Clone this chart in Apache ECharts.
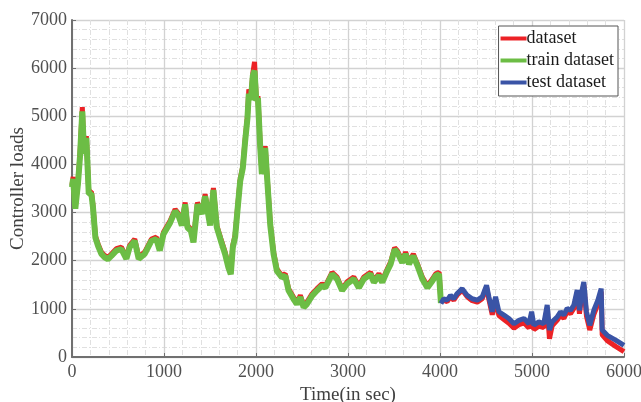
<!DOCTYPE html>
<html>
<head>
<meta charset="utf-8">
<script src="https://cdn.jsdelivr.net/npm/echarts@6/dist/echarts.min.js"></script>
<style>
  html, body { margin: 0; padding: 0; background: #fff; }
  #chart { width: 641px; height: 402px; }
</style>
</head>
<body>
<div id="chart"></div>
<script>
// time stamps (sec) and loads
const trainTime = [0, 12, 36, 65, 87, 112, 131, 156, 182, 211, 228, 254, 283, 319, 355, 390, 428, 482, 537, 591,
    627, 682, 725, 790, 863, 917, 954, 994, 1067, 1121, 1157, 1194, 1230, 1255, 1292, 1320, 1364, 1411, 1447, 1465,
    1501, 1537, 1574, 1617, 1664, 1700, 1726, 1748, 1773, 1798, 1828, 1857, 1882, 1907, 1922, 1944, 1966, 1984, 2003, 2021,
    2046, 2064, 2100, 2118, 2155, 2191, 2227, 2282, 2318, 2354, 2409, 2445, 2482, 2518, 2554, 2609, 2663, 2718, 2754, 2827,
    2881, 2936, 2990, 3063, 3118, 3172, 3245, 3281, 3336, 3372, 3427, 3463, 3507, 3536, 3590, 3626, 3663, 3710, 3754, 3808,
    3863, 3917, 3953, 3990, 4010];
const trainLoad = [3530, 3700, 3080, 3600, 4170, 5100, 4220, 4550, 3390, 3390, 3110, 2480, 2310, 2140, 2070, 2030, 2100, 2210, 2240, 2040,
    2280, 2410, 2040, 2140, 2410, 2450, 2210, 2550, 2790, 3030, 2940, 2730, 3170, 2690, 2620, 2380, 3170, 2970, 3340, 3340,
    2730, 3470, 2690, 2420, 2140, 1860, 1720, 2280, 2490, 3030, 3650, 3930, 4480, 4960, 5470, 5340, 5850, 5950, 5320, 5380,
    4350, 3800, 4340, 3800, 2740, 2140, 1790, 1650, 1690, 1380, 1200, 1100, 1240, 1030, 1100, 1270, 1380, 1480, 1440, 1720,
    1620, 1380, 1520, 1620, 1440, 1620, 1720, 1550, 1690, 1550, 1790, 1930, 2230, 2170, 1960, 2140, 1930, 2100, 1900, 1620,
    1440, 1580, 1690, 1720, 1120];

const testTime = [4010, 4041, 4078, 4114, 4150, 4187, 4241, 4296, 4350, 4405, 4459, 4506, 4531, 4568, 4604, 4640, 4695, 4749, 4804, 4858,
    4913, 4967, 4996, 5020, 5074, 5128, 5165, 5190, 5219, 5273, 5310, 5346, 5382, 5419, 5455, 5491, 5516, 5545, 5563, 5592,
    5628, 5672, 5716, 5752, 5763, 5818, 5909, 6000];
const testLoad = [1110, 1210, 1180, 1280, 1210, 1320, 1420, 1280, 1210, 1180, 1250, 1490, 1250, 940, 1250, 940, 870, 800, 690, 760,
    800, 690, 940, 660, 730, 690, 1080, 560, 730, 830, 940, 870, 1010, 970, 1080, 1390, 970, 1390, 1560, 940,
    660, 970, 1180, 1420, 560, 450, 350, 240];

// full dataset (red), on the same time stamps as train + test
const dataTime = trainTime.concat(testTime.slice(1));
const dataLoad = [3570, 3740, 3120, 3640, 4210, 5190, 4260, 4590, 3430, 3430, 3150, 2520, 2350, 2180, 2110, 2070, 2140, 2250, 2280, 2080,
    2320, 2450, 2080, 2180, 2450, 2490, 2250, 2590, 2830, 3070, 2980, 2770, 3210, 2730, 2660, 2420, 3210, 3010, 3380, 3380,
    2770, 3510, 2730, 2460, 2180, 1900, 1760, 2320, 2530, 3070, 3690, 3970, 4520, 5000, 5560, 5390, 5900, 6130, 5370, 5420,
    4390, 3840, 4380, 3840, 2780, 2180, 1830, 1690, 1730, 1420, 1240, 1140, 1280, 1070, 1140, 1310, 1420, 1520, 1480, 1760,
    1660, 1420, 1560, 1660, 1480, 1660, 1760, 1590, 1730, 1590, 1830, 1970, 2270, 2210, 2000, 2180, 1970, 2140, 1940, 1660,
    1480, 1620, 1730, 1760, 1150,
    1180, 1150, 1250, 1180, 1290, 1390, 1250, 1170, 1140, 1210, 1450, 1200, 880, 1180, 860, 780, 700, 600, 670,
    710, 600, 860, 570, 640, 610, 1010, 380, 650, 760, 870, 800, 940, 900, 1010, 1330, 900, 1330, 1500, 850,
    560, 880, 1100, 1360, 460, 340, 220, 110];

const xTicks = [0, 1000, 2000, 3000, 4000, 5000, 6000];
const yTicks = [0, 1000, 2000, 3000, 4000, 5000, 6000, 7000];

function pairs(ts, vs) {
    return ts.map((t, i) => [t, vs[i]]);
}

const serif = "'Liberation Serif', 'DejaVu Serif', serif";

let axisCommon = {
    axisLine: { show: true, lineStyle: { color: '#707070', width: 2 } },
    axisTick: { show: true, inside: true, length: 4, lineStyle: { color: '#707070', width: 1 } },
    axisLabel: { color: '#505050', fontFamily: serif, fontSize: 18, formatter: v => String(v) },
    splitLine: { show: true, lineStyle: { color: '#d2d2d2', width: 1.3 } },
    minorTick: { show: true, splitNumber: 5, length: 0 },
    minorSplitLine: { show: true, lineStyle: { color: '#e0e0e0', width: 1, type: [5, 2, 1, 2] } },
    nameTextStyle: { color: '#404040', fontFamily: serif, fontSize: 19 },
    nameMoveOverlap: false
};

let option = {
    backgroundColor: '#fff',
    animation: false,
    grid: { left: 72, right: 17, top: 20, bottom: 45, containLabel: false, outerBoundsMode: 'none' },
    legend: {
        orient: 'vertical',
        right: 23, top: 26,
        backgroundColor: '#fff',
        borderColor: '#555', borderWidth: 1,
        padding: [3, 4, 4, 2],
        itemGap: 3,
        itemWidth: 26, itemHeight: 4,
        icon: 'rect',
        textStyle: { color: '#1a1a1a', fontFamily: serif, fontSize: 18, lineHeight: 19, padding: [0, 0, 0, -5] },
        data: ['dataset', 'train dataset', 'test dataset']
    },
    xAxis: Object.assign({}, axisCommon, {
        type: 'value', min: xTicks[0], max: xTicks[xTicks.length - 1], interval: 1000,
        name: 'Time(in sec)', nameLocation: 'middle', nameGap: 29,
        axisLabel: Object.assign({}, axisCommon.axisLabel, { margin: 6 })
    }),
    yAxis: Object.assign({}, axisCommon, {
        type: 'value', min: yTicks[0], max: yTicks[yTicks.length - 1], interval: 1000,
        name: 'Controller loads', nameLocation: 'middle', nameGap: 44,
        axisLabel: Object.assign({}, axisCommon.axisLabel, { margin: 5 })
    }),
    series: [
        {
            name: 'dataset', type: 'line', showSymbol: false, symbol: 'none',
            data: pairs(dataTime, dataLoad),
            lineStyle: { color: '#ec2226', width: 5 }, itemStyle: { color: '#ec2226' }, z: 1
        },
        {
            name: 'train dataset', type: 'line', showSymbol: false, symbol: 'none',
            data: pairs(trainTime, trainLoad),
            lineStyle: { color: '#6cbd45', width: 6 }, itemStyle: { color: '#6cbd45' }, z: 2
        },
        {
            name: 'test dataset', type: 'line', showSymbol: false, symbol: 'none',
            data: pairs(testTime, testLoad),
            lineStyle: { color: '#3a54a6', width: 5 }, itemStyle: { color: '#3a54a6' }, z: 3
        }
    ]
};

let chart = echarts.init(document.getElementById('chart'));
chart.setOption(option);
</script>
</body>
</html>
